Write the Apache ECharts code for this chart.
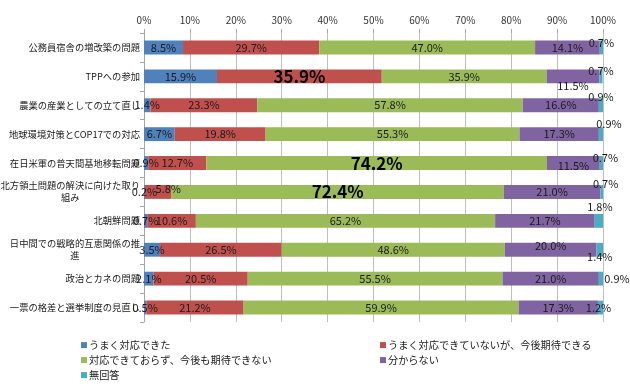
<!DOCTYPE html>
<html>
<head>
<meta charset="utf-8">
<script src="https://cdn.jsdelivr.net/npm/echarts@6/dist/echarts.min.js"></script>
<style>html,body{margin:0;padding:0;background:#fff;}#c{width:630px;height:384px;}</style>
</head>
<body>
<div id="c"></div>
<script>
const categories = [
  '公務員宿舎の増改築の問題',
  'TPPへの参加',
  '農業の産業としての立て直し',
  '地球環境対策とCOP17での対応',
  '在日米軍の普天間基地移転問題',
  '北方領土問題の解決に向けた取り\n組み',
  '北朝鮮問題',
  '日中間での戦略的互恵関係の推\n進',
  '政治とカネの問題',
  '一票の格差と選挙制度の見直し'
];
const seriesNames = [
  'うまく対応できた',
  'うまく対応できていないが、今後期待できる',
  '対応できておらず、今後も期待できない',
  '分からない',
  '無回答'
];
const sDone    = [8.5, 15.9, 1.4, 6.7, 0.9, 0.2, 0.7, 3.5, 2.1, 0.5];
const sHope    = [29.7, 35.9, 23.3, 19.8, 12.7, 5.8, 10.6, 26.5, 20.5, 21.2];
const sNo      = [47.0, 35.9, 57.8, 55.3, 74.2, 72.4, 65.2, 48.6, 55.5, 59.9];
const sUnknown = [14.1, 11.5, 16.6, 17.3, 11.5, 21.0, 21.7, 20.0, 21.0, 17.3];
const sNA      = [0.7, 0.7, 0.9, 0.9, 0.7, 0.7, 1.8, 1.4, 0.9, 1.2];
const xTicks = [0, 10, 20, 30, 40, 50, 60, 70, 80, 90, 100];

const colors = ['#4f81bd', '#c0504d', '#9bbb59', '#8064a2', '#4bacc6'];
const values = [sDone, sHope, sNo, sUnknown, sNA];
const FONT = '"Noto Sans CJK JP", "Noto Sans", sans-serif';

// per-item label styling (series index -> row index -> label options)
const big = { fontSize: 17, fontWeight: 'bold', color: '#000' };
const labelOverrides = {
  1: { 1: big, 5: { offset: [10, -3] } },
  2: { 4: big, 5: big },
  3: { 1: { offset: [0, 9] }, 4: { offset: [0, 3] }, 7: { offset: [0, -4] } },
  4: {
    0: { offset: [0, -5] }, 1: { offset: [0, -6] }, 2: { offset: [0, -8] },
    3: { offset: [8, -10] }, 4: { offset: [4, -5] }, 5: { offset: [4, -8] },
    6: { offset: [1, -14] }, 7: { offset: [0, 7] }, 8: { offset: [16, 0] },
    9: { offset: [-2, 0] }
  }
};

const series = seriesNames.map((name, si) => ({
  name: name,
  type: 'bar',
  stack: 'total',
  barWidth: '48%',
  itemStyle: { color: colors[si] },
  label: {
    show: true,
    position: 'inside',
    fontSize: 11,
    fontFamily: FONT,
    color: '#1a1a1a',
    formatter: p => p.value.toFixed(1) + '%'
  },
  emphasis: { disabled: true },
  data: values[si].map((v, ri) => {
    const o = labelOverrides[si] && labelOverrides[si][ri];
    return o ? { value: v, label: o } : v;
  })
}));

// legend placement: [left, top] per series
const legendPos = [[81, 340], [380, 340], [81, 355], [380, 355], [81, 370]];
const legends = seriesNames.map((n, i) => ({
  data: [n],
  left: legendPos[i][0], top: legendPos[i][1],
  padding: 0,
  itemWidth: 6, itemHeight: 6, icon: 'rect',
  selectedMode: false,
  textStyle: { fontSize: 10.2, color: '#1a1a1a', fontFamily: FONT, padding: [0, 0, 0, -3] }
}));

const chart = echarts.init(document.getElementById('c'), null, { renderer: 'canvas' });
chart.setOption({
  animation: false,
  backgroundColor: '#fff',
  textStyle: { fontFamily: FONT },
  grid: { left: 144, right: 27, top: 33, bottom: 62, containLabel: false, outerBoundsMode: 'none' },
  legend: legends,
  xAxis: {
    type: 'value', position: 'top',
    min: xTicks[0], max: xTicks[xTicks.length - 1], interval: xTicks[1] - xTicks[0],
    axisLine: { show: false },
    axisTick: { show: true, length: 4, lineStyle: { color: '#a6a6a6' } },
    axisLabel: { formatter: '{value}%', fontSize: 10, color: '#333', margin: 8, fontFamily: FONT },
    splitLine: { show: true, lineStyle: { color: '#bfbfbf', width: 1 } }
  },
  yAxis: {
    type: 'category', inverse: true, data: categories,
    axisLine: { show: true, lineStyle: { color: '#a6a6a6' } },
    axisTick: { show: true, length: 4, lineStyle: { color: '#a6a6a6' } },
    axisLabel: {
      fontSize: 9.3, color: '#1a1a1a', margin: 4, align: 'right', fontFamily: FONT,
      formatter: v => {
        const parts = v.split('\n');
        if (parts.length === 1) return v;
        return '{a|' + parts[0] + '}\n{b|' + parts[1] + '}';
      },
      rich: {
        a: { fontSize: 9.3, color: '#1a1a1a', lineHeight: 12, fontFamily: FONT },
        b: { fontSize: 9.3, color: '#1a1a1a', lineHeight: 12, align: 'center', fontFamily: FONT }
      }
    }
  },
  series: series
});
</script>
</body>
</html>
